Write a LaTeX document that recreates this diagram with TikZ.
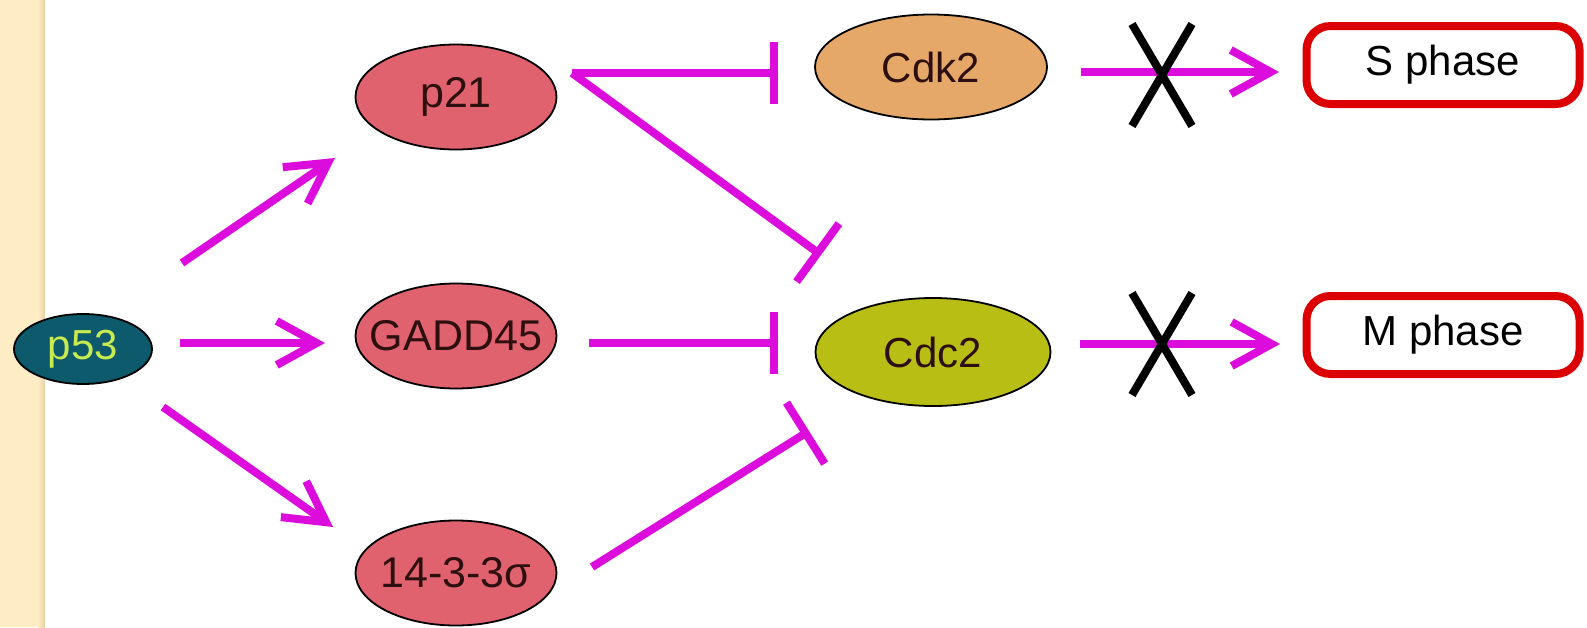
\documentclass[tikz,border=0pt]{standalone}
\usepackage{fontspec}
\setmainfont{Liberation Sans}
\usetikzlibrary{arrows.meta,shapes.geometric}

\definecolor{stripfill}{RGB}{254,236,196}
\definecolor{stripedge}{RGB}{226,210,166}
\definecolor{mag}{RGB}{220,12,220}
\definecolor{salmon}{RGB}{224,98,110}
\definecolor{cdkfill}{RGB}{230,168,104}
\definecolor{cdcfill}{RGB}{185,190,20}
\definecolor{pfill}{RGB}{12,90,108}
\definecolor{ptext}{RGB}{200,235,80}
\definecolor{phasered}{RGB}{220,0,0}
\definecolor{labeltext}{RGB}{45,15,15}

% label of zero width, so the ellipse keeps its given size
\newcommand{\lbl}[1]{\makebox[0pt][c]{#1}}

\begin{document}
\begin{tikzpicture}[x=1pt,y=-1pt,
  gene/.style={ellipse, draw=black, line width=1.8pt, inner sep=0pt,
    fill=salmon, text=labeltext, minimum width=201pt, minimum height=105pt,
    font=\fontsize{43}{50}\selectfont},
  phase/.style={draw=phasered, line width=8pt, rounded corners=24pt, fill=white,
    minimum width=273pt, minimum height=78pt, inner sep=0pt,
    font=\fontsize{42}{50}\selectfont},
  act/.style={mag, line width=8pt, -{Straight Barb[length=40pt,width=44pt]}},
  inh/.style={mag, line width=8pt, -{Bar[width=#1]}},
  inh/.default=62pt,
  cross/.style={black, line width=8pt}]
\useasboundingbox (0,0) rectangle (1587,627);

% side strip
\fill[stripfill] (0,0) rectangle (38,627);
\shade[left color=stripfill, right color=stripedge] (38,0) rectangle (45,627);

% nodes
\node[gene, fill=pfill, text=ptext, minimum width=138pt, minimum height=70pt,
      font=\fontsize{42}{50}\selectfont] (p53) at (83,349) {\lbl{p53}};
\node[gene] (p21)  at (456,97)  {\lbl{p21}};
\node[gene] (gadd) at (456,336) {\lbl{GADD45}};
\node[gene] (sig)  at (456,573) {\lbl{14-3-3σ}};
\node[gene, fill=cdkfill, minimum width=232pt, minimum height=105pt,
      font=\fontsize{42}{50}\selectfont] (cdk2) at (931,67) {\lbl{Cdk2}};
\node[gene, fill=cdcfill, minimum width=235pt, minimum height=108pt,
      font=\fontsize{42}{50}\selectfont] (cdc2) at (933,352) {\lbl{Cdc2}};
\node[phase] (sph) at (1443,65)  {S phase};
\node[phase] (mph) at (1443,335) {M phase};

% activation by p53
\draw[act] ([shift={(99,-86)}]p53.center) -- ([shift={(-121,61)}]p21.center);
\draw[act] ([shift={(97,-6)}]p53.center)  -- ([shift={(-131,7)}]gadd.center);
\draw[act] ([shift={(80,58)}]p53.center)  -- ([shift={(-123,-46)}]sig.center);

% inhibition of the kinases
\draw[inh] ([shift={(116,-24)}]p21.center) -- ([shift={(-153,6)}]cdk2.center);
\draw[inh=72pt] ([shift={(116,-24)}]p21.center) -- ([shift={(-112,-97)}]cdc2.center);
\draw[inh] ([shift={(133,7)}]gadd.center) -- ([shift={(-155,-9)}]cdc2.center);
\draw[inh=72pt] ([shift={(136,-6)}]sig.center) -- ([shift={(-124,79)}]cdc2.center);

% blocked transitions
\draw[act] ([shift={(150,5)}]cdk2.center) -- ([shift={(-164,7)}]sph.center);
\draw[act] ([shift={(147,-8)}]cdc2.center) -- ([shift={(-163,9)}]mph.center);

\coordinate (xs) at (1162,75);
\coordinate (xm) at (1162,344);
\draw[cross] ([shift={(-30,-51)}]xs) -- ([shift={(30,51)}]xs);
\draw[cross] ([shift={(30,-51)}]xs) -- ([shift={(-30,51)}]xs);
\draw[cross] ([shift={(-30,-51)}]xm) -- ([shift={(30,51)}]xm);
\draw[cross] ([shift={(30,-51)}]xm) -- ([shift={(-30,51)}]xm);
\end{tikzpicture}
\end{document}
